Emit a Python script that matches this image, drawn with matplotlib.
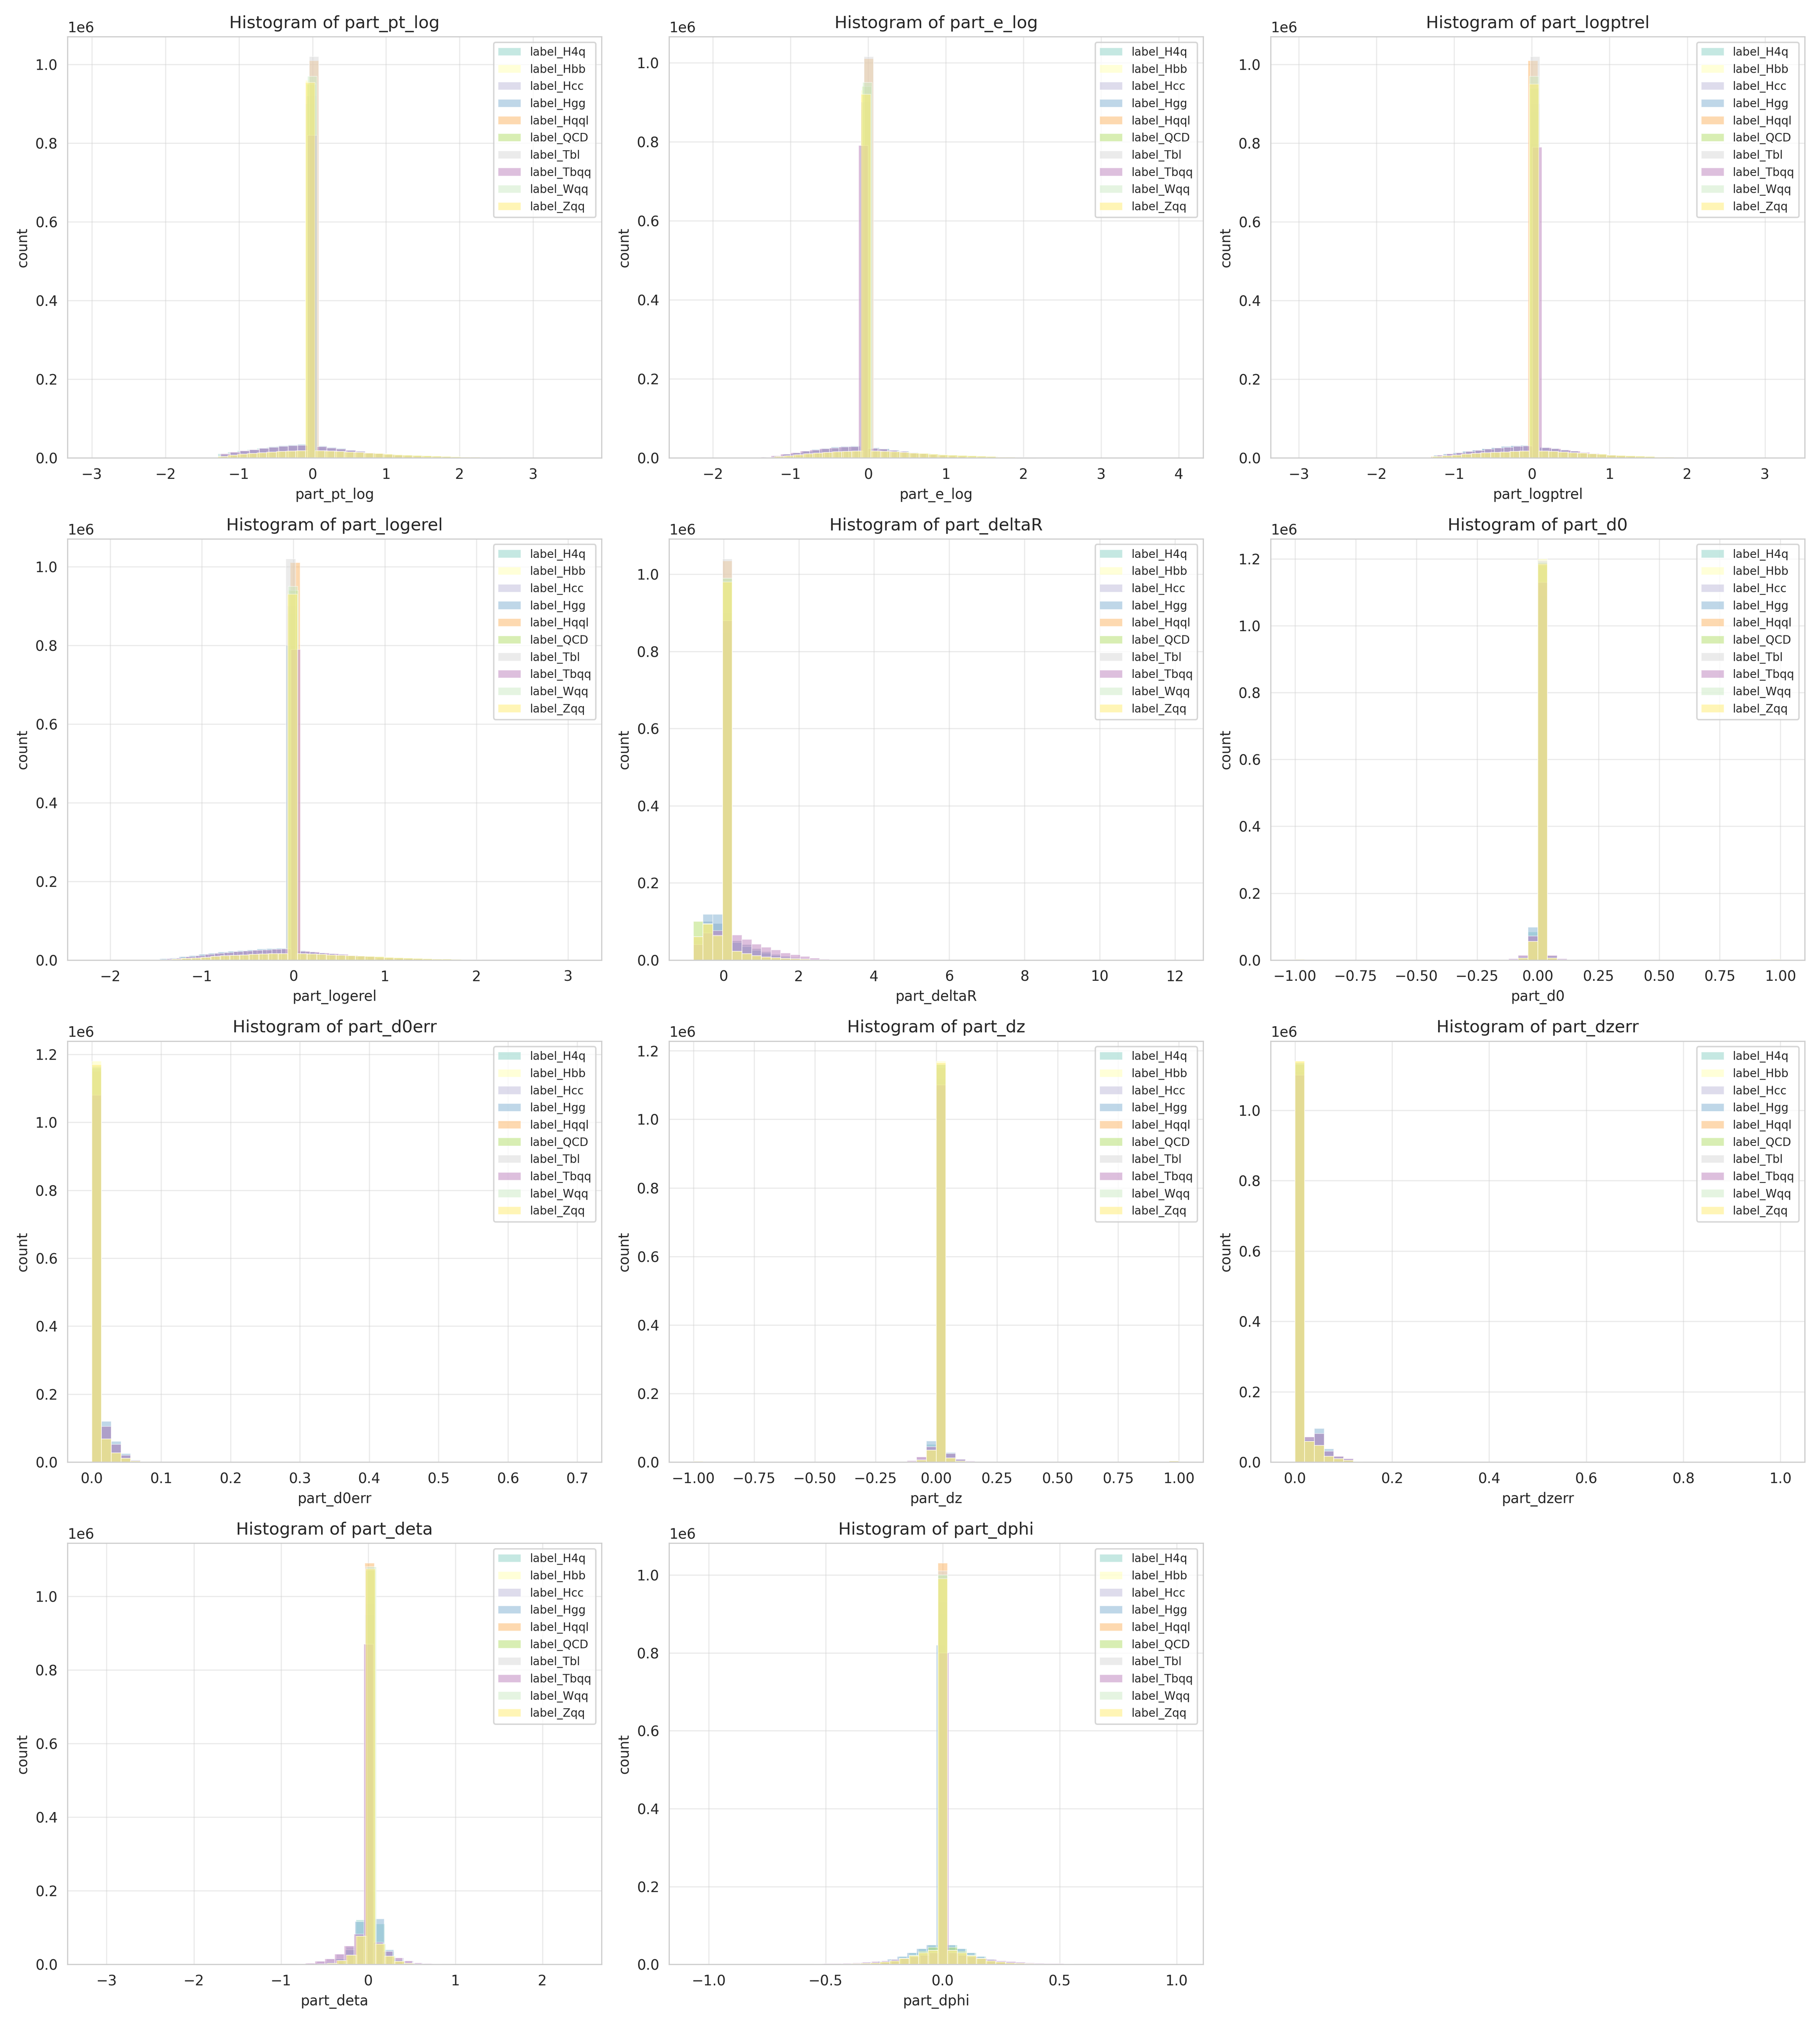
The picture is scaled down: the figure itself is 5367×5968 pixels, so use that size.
import numpy as np
import matplotlib
matplotlib.use("Agg")
import matplotlib.pyplot as plt
import seaborn as sns

# class labels and their colours (Set3-like, drawn at alpha 0.5)
labels = ["label_H4q", "label_Hbb", "label_Hcc", "label_Hgg", "label_Hqql",
          "label_QCD", "label_Tbl", "label_Tbqq", "label_Wqq", "label_Zqq"]
colors = ["#8dd3c7", "#ffffb3", "#bebada", "#80b1d3", "#fdb462",
          "#b3de69", "#d9d9d9", "#bc80bd", "#ccebc5", "#ffed6f"]

n_bins = 50

# counts are in thousands; "left"/"right" lists go outwards from the peak bin
# *_class_lo = minimum value of each class (its own bins run from there to the max)

# --- part_pt_log
pt_log_range = (-3.0, 3.6)
pt_log_class_lo = [-3.0, -3.0, -2.97, -2.95, -2.91, -2.97, -2.91, -2.95, -2.95, -3.0]
pt_log_peak_bin = 22
pt_log_peak = [900, 960, 920, 800, 1010, 950, 1020, 820, 970, 955]
pt_log_groups = ["wide", "narrow", "wide", "hgg", "narrow", "narrow", "narrow", "wide", "narrow", "narrow"]
pt_log_left = {"wide": [32, 31, 29, 27, 24, 21, 18, 15, 10],
               "hgg": [34, 33, 31, 28, 25, 21, 17, 13, 8],
               "narrow": [18, 17, 16, 15, 13, 11, 9, 7, 3]}
pt_log_right = {"wide": [28, 25, 22, 19, 16, 13, 10, 8, 6, 4, 3, 2, 1.5, 1, 0.5],
                "hgg": [30, 27, 24, 20, 17, 13, 10, 8, 6, 4, 3, 2, 1, 0.5],
                "narrow": [18, 17, 16, 15, 14, 12, 11, 9, 8, 7, 6, 5, 4, 3, 2.5, 2, 1.5, 1, 0.5, 0.3]}

# --- part_e_log
e_log_range = (-2.2, 4.0)
e_log_class_lo = [-2.2, -2.2, -2.2, -2.22, -2.14, -2.18, -2.14, -2.25, -2.17, -2.2]
e_log_peak_bin = 17
e_log_peak = [880, 930, 900, 790, 1010, 940, 1015, 790, 950, 920]
e_log_groups = pt_log_groups
e_log_left = {"wide": [28, 27, 25, 23, 20, 17, 13, 9, 5, 2],
              "hgg": [30, 29, 27, 24, 21, 17, 13, 9, 5, 2],
              "narrow": [17, 16, 15, 14, 12, 10, 8, 5, 3, 1]}
e_log_right = {"wide": [24, 22, 19, 16, 13, 10, 8, 6, 4, 3, 2, 1.5, 1, 0.5],
               "hgg": [26, 23, 20, 17, 14, 11, 8, 6, 4, 3, 2, 1, 0.5],
               "narrow": [17, 16, 15, 14, 12, 11, 9, 8, 7, 6, 5, 4, 3, 2, 1.5, 1, 0.5, 0.3]}

# --- part_logptrel
logptrel_range = (-3.0, 3.2)
logptrel_class_lo = [-3.0, -3.02, -3.0, -3.0, -3.05, -3.02, -2.99, -2.94, -3.02, -3.02]
logptrel_peak_bin = 24
logptrel_peak = [880, 955, 900, 800, 1010, 940, 1020, 790, 970, 950]
logptrel_groups = pt_log_groups
logptrel_left = {"wide": [30, 29, 27, 25, 22, 19, 16, 13, 10, 7],
                 "hgg": [32, 31, 29, 26, 23, 20, 16, 13, 9, 6],
                 "narrow": [17, 16, 15, 14, 13, 11, 9, 7, 5, 3]}
logptrel_right = {"wide": [26, 23, 20, 17, 14, 11, 8, 6, 4, 3, 2, 1, 0.5],
                  "hgg": [27, 24, 21, 17, 14, 11, 8, 6, 4, 3, 2, 1, 0.5],
                  "narrow": [17, 16, 15, 13, 12, 10, 9, 7, 6, 5, 4, 3, 2, 1.5, 1, 0.5]}

# --- part_logerel
logerel_range = (-2.2, 3.1)
logerel_class_lo = [-2.18, -2.18, -2.18, -2.2, -2.12, -2.15, -2.2, -2.11, -2.16, -2.17]
logerel_peak_bin = 20
logerel_peak = [880, 940, 900, 800, 1010, 940, 1020, 790, 950, 930]
logerel_groups = pt_log_groups
logerel_left = {"wide": [28, 27, 26, 25, 23, 21, 19, 17, 14, 11, 8, 5, 3, 1],
                "hgg": [30, 29, 28, 26, 24, 22, 20, 17, 14, 11, 8, 5, 3, 1],
                "narrow": [16, 16, 15, 14, 13, 12, 11, 9, 7, 5, 4, 2, 1, 0.5]}
logerel_right = {"wide": [22, 20, 18, 16, 14, 12, 10, 8, 6, 5, 4, 3, 2, 1.5, 1, 0.5],
                 "hgg": [24, 21, 19, 16, 14, 12, 9, 7, 5, 4, 3, 2, 1, 0.5],
                 "narrow": [16, 15, 14, 13, 12, 11, 10, 9, 8, 7, 6, 5, 4, 3, 2.5, 2, 1.5, 1, 0.5]}

# --- part_deltaR
deltaR_range = (-0.8, 12.1)
deltaR_class_lo = None
deltaR_peak_bin = 3
deltaR_peak = [870, 980, 900, 850, 1035, 990, 1040, 880, 990, 980]
deltaR_groups = ["hx", "narrow", "hx", "hgg", "narrow", "qcd", "narrow", "tbqq", "narrow", "narrow"]
deltaR_left = {"tbqq": [76, 70, 40],
               "hx": [95, 100, 50],
               "hgg": [118, 118, 60],
               "qcd": [65, 95, 100],
               "narrow": [63, 93, 60]}
deltaR_right = {"tbqq": [65, 53, 41, 33, 26, 18, 14, 9, 5, 2, 1],
                "hx": [50, 40, 30, 22, 15, 10, 7, 4, 2, 1],
                "hgg": [45, 35, 25, 18, 12, 8, 5, 3, 1.5, 0.5],
                "qcd": [23, 16, 11, 8, 6, 4, 3, 2, 1],
                "narrow": [23, 16, 11, 8, 6, 4, 3, 2, 1, 0.5]}

# --- part_d0
d0_range = (-1.0, 1.0)
d0_class_lo = None
d0_peak_bin = 25
d0_peak = [1100, 1200, 1120, 1090, 1190, 1180, 1195, 1130, 1190, 1185]
d0_groups = ["hx", "narrow", "tbqq", "hgg", "narrow", "narrow", "narrow", "tbqq", "narrow", "narrow"]
d0_left = {"hgg": [98, 10, 3, 1], "hx": [84, 10, 3, 1],
           "tbqq": [72, 14, 4, 1], "narrow": [55, 6, 1, 0.5]}
d0_right = {"hgg": [12, 3, 1], "hx": [12, 3, 1],
            "tbqq": [14, 4, 1], "narrow": [6, 1, 0.5]}
d0_tails = (2, 2)

# --- part_d0err
d0err_range = (0.0, 0.7)
d0err_class_lo = None
d0err_peak_bin = 0
d0err_peak = [1070, 1180, 1080, 1070, 1150, 1160, 1160, 1080, 1165, 1170]
d0err_groups = ["tbqq", "narrow", "tbqq", "hgg", "narrow", "narrow", "narrow", "tbqq", "narrow", "narrow"]
d0err_right = {"hgg": [120, 61, 25, 6, 1],
               "tbqq": [105, 52, 20, 5, 1],
               "narrow": [68, 27, 11, 3, 1]}

# --- part_dz
dz_range = (-1.0, 1.0)
dz_class_lo = None
dz_peak_bin = 25
dz_peak = [1110, 1170, 1120, 1090, 1150, 1160, 1160, 1100, 1160, 1165]
dz_groups = d0_groups
dz_left = {"hgg": [62, 8, 2], "hx": [52, 8, 2],
           "tbqq": [45, 15, 4], "narrow": [35, 6, 1]}
dz_right = {"hgg": [28, 8, 2], "hx": [24, 6, 2],
            "tbqq": [25, 8, 3], "narrow": [12, 3, 1]}
dz_tails = (2, 3)

# --- part_dzerr
dzerr_range = (0.0, 1.0)
dzerr_class_lo = None
dzerr_peak_bin = 0
dzerr_peak = [1100, 1140, 1110, 1090, 1130, 1130, 1135, 1100, 1135, 1140]
dzerr_groups = d0err_groups
dzerr_right = {"hgg": [65, 96, 38, 15, 8, 1],
               "tbqq": [72, 81, 31, 17, 10, 1],
               "narrow": [59, 48, 17, 10, 5, 1]}

# --- part_deta
deta_range = (-3.1, 2.4)
deta_class_lo = [-3.12, -3.12, -3.13, -3.14, -3.14, -3.12, -3.13, -3.17, -3.09, -3.12]
deta_peak_bin = 28
deta_peak = [1000, 1070, 980, 950, 1090, 1070, 1080, 870, 1080, 1075]
deta_groups = ["hx", "narrow", "tbqq", "hgg", "narrow", "narrow", "narrow", "tbqq", "narrow", "narrow"]
deta_left = {"hgg": [116, 40, 15, 6, 2, 1], "hx": [121, 45, 15, 6, 2],
             "tbqq": [82, 50, 28, 15, 8, 3, 1], "narrow": [77, 25, 10, 3, 1]}
deta_right = {"hgg": [124, 40, 12, 4, 1], "hx": [110, 35, 12, 4, 1],
              "tbqq": [60, 35, 18, 9, 4, 2, 1], "narrow": [55, 22, 8, 3, 1]}

# --- part_dphi
dphi_range = (-1.05, 1.01)
dphi_class_lo = [-1.05, -1.05, -1.05, -1.065, -1.05, -1.05, -1.05, -1.04, -1.05, -1.05]
dphi_peak_bin = 25
dphi_peak = [900, 990, 930, 820, 1030, 1000, 1010, 800, 1000, 990]
dphi_groups = ["hgg", "narrow", "tbqq", "hgg", "narrow", "qcd", "narrow", "tbqq", "narrow", "narrow"]
dphi_left = {"tbqq": [30, 24, 19, 15, 12, 9, 7, 5, 4, 3, 2, 1.5, 1, 0.5],
             "hgg": [50, 40, 30, 20, 13, 8, 5, 3, 2, 1],
             "qcd": [44, 33, 24, 16, 10, 6, 4, 2.5, 1.5, 1, 0.5],
             "narrow": [36, 30, 22, 15, 9, 6, 4, 2.5, 1.5, 1, 0.5]}
dphi_right = dphi_left

panels = [
    ("part_pt_log", pt_log_range, pt_log_class_lo, pt_log_peak_bin, pt_log_peak, pt_log_groups, pt_log_left, pt_log_right, None),
    ("part_e_log", e_log_range, e_log_class_lo, e_log_peak_bin, e_log_peak, e_log_groups, e_log_left, e_log_right, None),
    ("part_logptrel", logptrel_range, logptrel_class_lo, logptrel_peak_bin, logptrel_peak, logptrel_groups, logptrel_left, logptrel_right, None),
    ("part_logerel", logerel_range, logerel_class_lo, logerel_peak_bin, logerel_peak, logerel_groups, logerel_left, logerel_right, None),
    ("part_deltaR", deltaR_range, deltaR_class_lo, deltaR_peak_bin, deltaR_peak, deltaR_groups, deltaR_left, deltaR_right, None),
    ("part_d0", d0_range, d0_class_lo, d0_peak_bin, d0_peak, d0_groups, d0_left, d0_right, d0_tails),
    ("part_d0err", d0err_range, d0err_class_lo, d0err_peak_bin, d0err_peak, d0err_groups, {}, d0err_right, None),
    ("part_dz", dz_range, dz_class_lo, dz_peak_bin, dz_peak, dz_groups, dz_left, dz_right, dz_tails),
    ("part_dzerr", dzerr_range, dzerr_class_lo, dzerr_peak_bin, dzerr_peak, dzerr_groups, {}, dzerr_right, None),
    ("part_deta", deta_range, deta_class_lo, deta_peak_bin, deta_peak, deta_groups, deta_left, deta_right, None),
    ("part_dphi", dphi_range, dphi_class_lo, dphi_peak_bin, dphi_peak, dphi_groups, dphi_left, dphi_right, None),
]


def build_counts(peak_bin, peak, group, left, right, tails):
    counts = np.zeros(n_bins)
    counts[peak_bin] = peak
    for d, v in enumerate(left.get(group, [])):
        if peak_bin - 1 - d >= 0:
            counts[peak_bin - 1 - d] = v
    for d, v in enumerate(right.get(group, [])):
        if peak_bin + 1 + d < n_bins:
            counts[peak_bin + 1 + d] = v
    if tails is not None:
        counts[0] += tails[0]
        counts[-1] += tails[1]
    return counts * 1000.0


sns.set_style("whitegrid")
plt.rcParams['font.family'] = ['DejaVu Sans']

fig, axes = plt.subplots(4, 3, figsize=(5367 / 300, 5968 / 300), dpi=300)
axes = axes.flatten()

for ii, (name, rng, class_lo, pbin, peaks, groups, left, right, tails) in enumerate(panels):
    ax = axes[ii]
    for jj, lab in enumerate(labels):
        lo = rng[0] if class_lo is None else class_lo[jj]
        edges = np.linspace(lo, rng[1], n_bins + 1)
        centers = 0.5 * (edges[:-1] + edges[1:])
        w = build_counts(pbin, peaks[jj], groups[jj], left, right, tails)
        ax.hist(centers, bins=edges, weights=w, alpha=0.5, color=colors[jj],
                edgecolor="white", linewidth=0.5, label=lab)
    ax.set_title(f"Histogram of {name}", fontsize=12)
    ax.set_xlabel(name)
    ax.set_ylabel("count")
    ax.grid(True, alpha=0.4)
    ax.legend(loc="upper right", fontsize=8)

fig.delaxes(axes[-1])
fig.tight_layout()
fig.savefig("out.png", dpi=300)
